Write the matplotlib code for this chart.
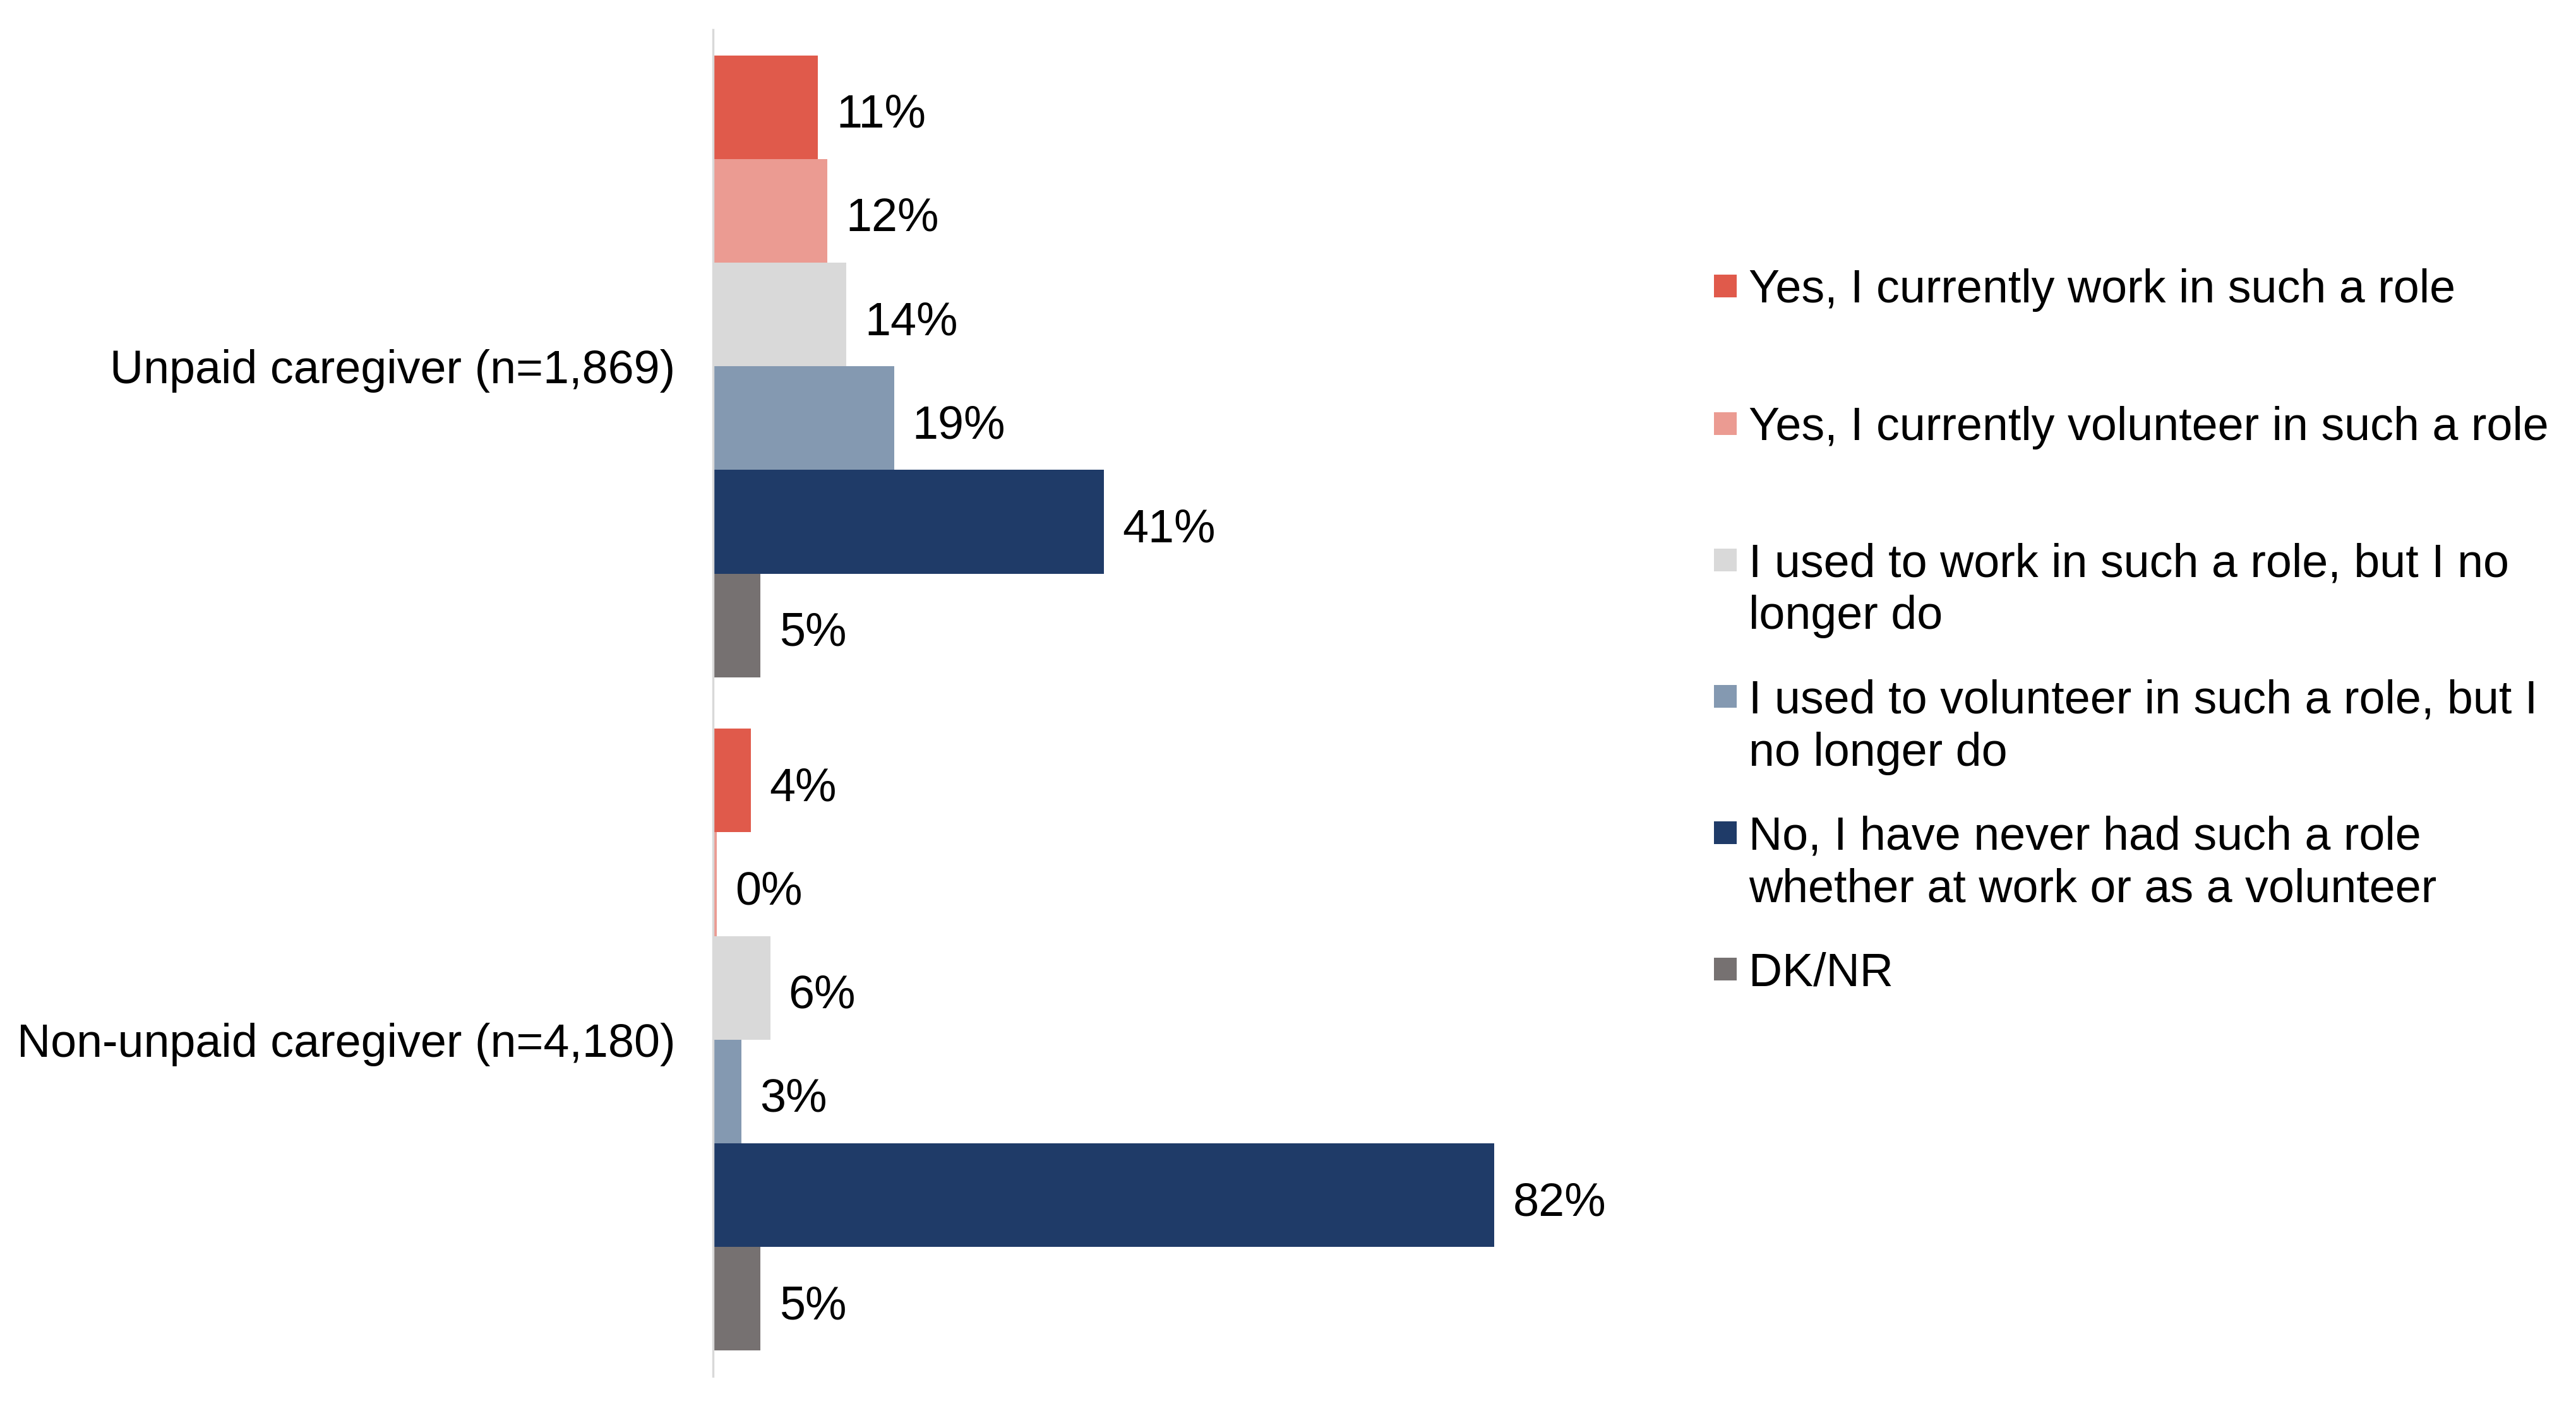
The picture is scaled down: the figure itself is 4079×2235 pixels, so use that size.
import matplotlib
matplotlib.use("Agg")
import matplotlib.pyplot as plt
from matplotlib.patches import Rectangle

plt.rcParams['font.family'] = ['Liberation Sans', 'DejaVu Sans']

# data
groups = ["Unpaid caregiver (n=1,869)", "Non-unpaid caregiver (n=4,180)"]
series = ["Yes, I currently work in such a role",
          "Yes, I currently volunteer in such a role",
          "I used to work in such a role, but I no\nlonger do",
          "I used to volunteer in such a role, but I\nno longer do",
          "No, I have never had such a role\nwhether at work or as a volunteer",
          "DK/NR"]
values = [[11, 4],
          [12, 0.4],
          [14, 6],
          [19, 3],
          [41, 82],
          [5, 5]]
colors = ["#E05A4B", "#EB9B92", "#D9D9D9", "#8499B1", "#1F3B68", "#767171"]

W, H = 4080, 2235
fig = plt.figure(figsize=(W / 100, H / 100), dpi=100)
ax = fig.add_axes([1129 / W, 1 - 2180 / H, 1358 / W, (2180 - 47) / H])

fs = 53
h = 0.154
for i, (vals, c) in enumerate(zip(values, colors)):
    pos = [g + (i - 2.5) * h for g in range(len(groups))]
    ax.barh(pos, vals, height=h, color=c, linewidth=0)
    for p, v in zip(pos, vals):
        ax.annotate(f"{v:.0f}%", (v, p), xytext=(21, -23), textcoords="offset points",
                    va="baseline", ha="left", fontsize=fs, color="black")

ax.set_xlim(0, 90)
ax.set_ylim(1.5, -0.5)
ax.set_yticks(range(len(groups)))
ax.set_yticklabels(groups, fontsize=fs)
ax.tick_params(axis="y", length=0, pad=43)
ax.set_xticks([])
for s in ["top", "right", "bottom"]:
    ax.spines[s].set_visible(False)
ax.spines["left"].set_color("#D9D9D9")
ax.spines["left"].set_linewidth(2.5)

# legend drawn by hand (marker on first line, fixed slot spacing)
em = fs * 100 / 72
centers = [453, 671, 887, 1103, 1319, 1535]
line_gap = 83
for lab, c, yc in zip(series, colors, centers):
    fig.add_artist(Rectangle((2714 / W, 1 - (yc + 18) / H), 36 / W, 36 / H,
                             transform=fig.transFigure, color=c, linewidth=0))
    for k, line in enumerate(lab.split("\n")):
        yb = yc + k * line_gap + 0.36 * em
        fig.text(2769 / W, 1 - yb / H, line, fontsize=fs, va="baseline", ha="left")

fig.savefig("out.png", dpi=100, facecolor="white")
